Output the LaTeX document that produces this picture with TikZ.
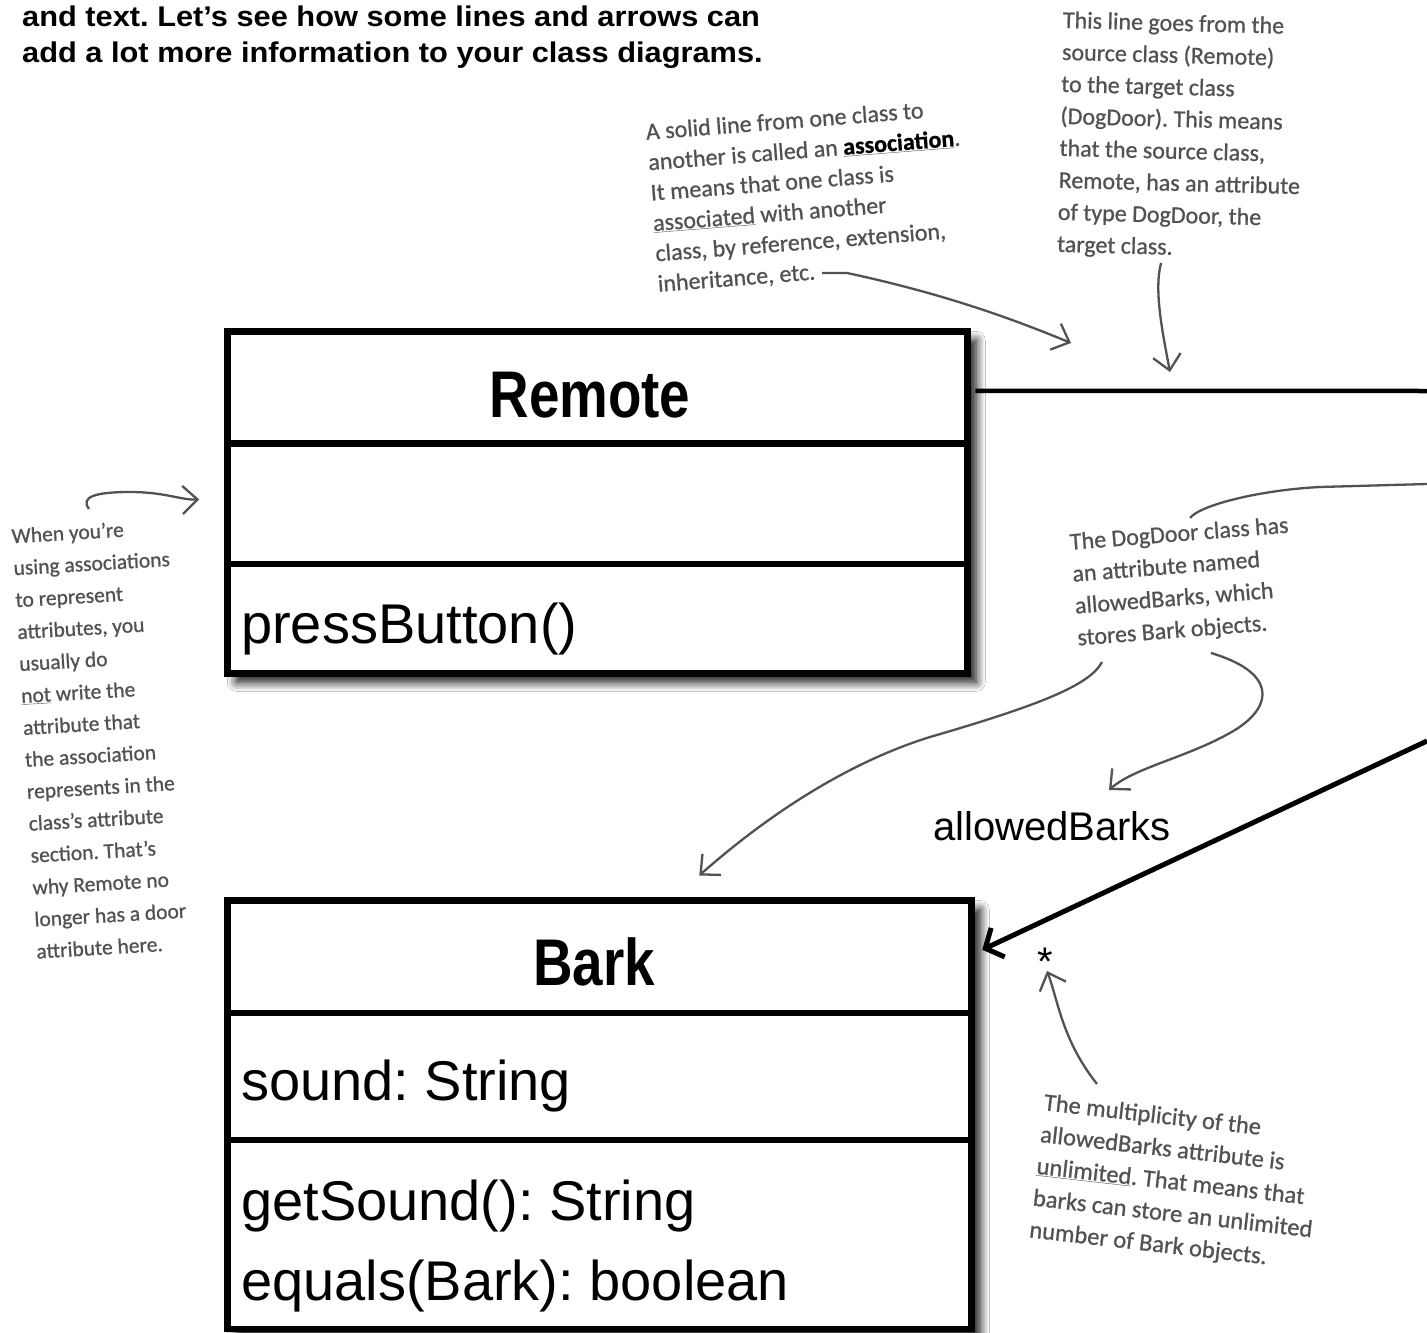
\documentclass[tikz,border=0pt]{standalone}
\usepackage{fontspec}
\setmainfont{Liberation Sans}
\newfontfamily\titlefont{Liberation Sans}[FakeStretch=0.83]
\newfontfamily\headfont{Liberation Sans}[FakeStretch=1.08]
\newfontfamily\handfont{Carlito}[FakeBold=0.8]
\usepackage{xcolor}
\usepackage{tikz}
\usetikzlibrary{arrows.meta,positioning,fit,backgrounds,shadows.blur}
\frenchspacing

\definecolor{pen}{RGB}{82,82,82}
\newcommand\handsize[2]{\handfont\fontsize{#1}{#2}\selectfont}

\begin{document}
\begin{tikzpicture}[
  x=1pt, y=-1pt,
  comp/.style={draw, line width=6.5pt, outer sep=0pt, inner sep=0pt,
    minimum width=740pt},
  clsname/.style={font=\titlefont\bfseries\fontsize{66}{70}\selectfont,
    inner sep=0pt, anchor=base},
  member/.style={font=\fontsize{56}{64}\selectfont, inner sep=0pt,
    anchor=base west},
  note/.style={text=pen, align=left, inner sep=0pt, anchor=north west},
  arr/.style={draw=pen, line width=2.3pt,
    -{Straight Barb[length=15pt,width=28pt]}},
  assoc/.style={line width=4.5pt},
  clsshadow/.style={fill=white, inner sep=0pt,
    blur shadow={shadow xshift=9pt, shadow yshift=-9pt,
      shadow blur radius=9pt, shadow blur steps=12, shadow opacity=95}}
]
\useasboundingbox (0,0) rectangle (1427,1333);

% Header
\node[anchor=north west, inner sep=0pt, align=left,
  font=\headfont\bfseries\fontsize{28.5}{36.5}\selectfont] (header) at (22,5.5)
  {and text. Let’s see how some lines and arrows can\\
   add a lot more information to your class diagrams.};

% Remote class
\node[comp, minimum height=112pt, anchor=north west] (remotename) at (227.25,331.25) {};
\node[comp, minimum height=120.5pt, below=0pt of remotename] (remoteattrs) {};
\node[comp, minimum height=109.5pt, below=0pt of remoteattrs] (remoteops) {};
\node[clsname] (remotetitle) at (590,417) {Remote};
\node[member] (pressbutton) at (241,643) {pressButton()};

% Bark class
\node[comp, minimum width=744pt, minimum height=112.5pt, anchor=north west] (barkname) at (227.25,900.5) {};
\node[comp, minimum width=744pt, minimum height=127pt, below=0pt of barkname] (barkattrs) {};
\node[comp, minimum width=744pt, minimum height=189pt, below=0pt of barkattrs] (barkops) {};
\node[clsname] (barktitle) at (594,985) {Bark};
\node[member] (sound) at (241,1100) {sound: String};
\node[member] (getsound) at (241,1220) {getSound(): String};
\node[member] (equals) at (241,1300) {equals(Bark): boolean};

% Shadows
\begin{scope}[on background layer]
  \fill[white] (0,0) rectangle (1427,1333);
  \node[clsshadow, fit=(remotename)(remoteops)] (remote) {};
  \node[clsshadow, fit=(barkname)(barkops)] (bark) {};
\end{scope}

% Associations (DogDoor lies off the page)
\coordinate (dogdoorwest) at (1427,391);
\coordinate (dogdoorsw) at (1427,741);
\coordinate (dogdoorattr) at (1427,484);
\draw[assoc] ([xshift=8pt,yshift=-3.5pt]remotename.east) -- (dogdoorwest);
\draw[assoc, line width=5pt, -{Straight Barb[length=14pt,width=32pt]}]
  (dogdoorsw) -- ([shift={(11,-7)}]barkname.east);
\node[font=\fontsize{40}{44}\selectfont, inner sep=0pt, anchor=base] (rolename) at (1052,840) {allowedBarks};
\node[font=\fontsize{40}{44}\selectfont, inner sep=0pt, anchor=base] (mult) at (1045,975) {*};

% Notes
\node[note, font={\handsize{24}{30.5}}, rotate=4.5] (assocnote) at (645,123) {%
A solid line from one class to\\
another is called an \underline{\textbf{\color{black}association}}.\\
It means that one class is\\
\underline{associated} with another\\
class, by reference, extension,\\
inheritance, etc.};

\node[note, font={\handsize{24}{32}}, rotate=-1.5] (targetnote) at (1063,11) {%
This line goes from the\\
source class (Remote)\\
to the target class\\
(DogDoor). This means\\
that the source class,\\
Remote, has an attribute\\
of type DogDoor, the\\
target class.};

\node[note, font={\handsize{21.5}{32}}, rotate=3.4] (leftnote) at (11,528) {%
When you’re\\
using associations\\
to represent\\
attributes, you\\
usually do\\
\underline{not} write the\\
attribute that\\
the association\\
represents in the\\
class’s attribute\\
section. That’s\\
why Remote no\\
longer has a door\\
attribute here.};

\node[note, font={\handsize{24}{32}}, rotate=4.5] (dogdoornote) at (1069,533) {%
The DogDoor class has\\
an attribute named\\
allowedBarks, which\\
stores Bark objects.};

\node[note, font={\handsize{24.5}{32}}, rotate=-6.5] (multnote) at (1045,1093) {%
The multiplicity of the\\
allowedBarks attribute is\\
\underline{unlimited}. That means that\\
barks can store an unlimited\\
number of Bark objects.};

% Note arrows
\coordinate (assoctail) at (822,273);
\coordinate (assoctip) at (1071,343);
\coordinate (targettail) at (1161,263);
\coordinate (targettip) at (1170,372);
\coordinate (lefttail) at (89,509);
\coordinate (dogtail) at (1190,518);
\coordinate (barktail) at (1102,662);
\coordinate (roletail) at (1211,653);
\coordinate (roletip) at (1109,790);
\coordinate (multtail) at (1097,1084);
\coordinate (multtip) at (1047,971);

\draw[arr] (assoctail) -- ++(25,0) .. controls (950,295) and (1020,322) .. (assoctip);
\draw[arr] (targettail) .. controls (1154,290) and (1162,330) .. (targettip);
\draw[arr] (lefttail) .. controls (80,497) and (95,492) .. (130,492)
  .. controls (165,492) and (180,500) .. ([shift={(-28,-4)}]remoteattrs.west);
\draw[draw=pen, line width=2.3pt] (dogtail) .. controls (1200,505) and (1260,490) .. (1320,487) -- (dogdoorattr);
\draw[arr] (barktail) .. controls (1090,685) and (1040,705) .. (930,737)
  .. controls (830,768) and (745,835) .. ([shift={(100,-25)}]barkname.north);
\draw[arr] (roletail) .. controls (1275,672) and (1275,705) .. (1235,730)
  .. controls (1190,757) and (1135,767) .. (roletip);
\draw[arr] (multtail) .. controls (1062,1040) and (1058,1000) .. (multtip);

\end{tikzpicture}
\end{document}
